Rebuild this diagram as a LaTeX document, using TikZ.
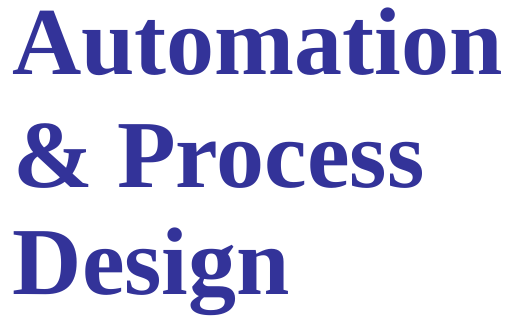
\documentclass[tikz,border=0pt]{standalone}
\usepackage{fontspec}
\setmainfont{Liberation Serif}
\usepackage{tikz}
\definecolor{titleblue}{HTML}{333399}
\tikzset{
  x=1pt, y=1pt,
  title line/.style={anchor=base west, inner sep=0pt, text=titleblue,
    font=\fontsize{96}{96}\selectfont\bfseries},
}

\begin{document}
\begin{tikzpicture}
        % frame
        \useasboundingbox (0,0) rectangle (506,-320);

        % lines of the title
        \node[title line] (automation) at (12,-75) {Automation};
        \node[title line] (process) at (13,-188) {\& Process};
        \node[title line] (design) at (12.5,-295) {Design};
      \end{tikzpicture}
\end{document}
